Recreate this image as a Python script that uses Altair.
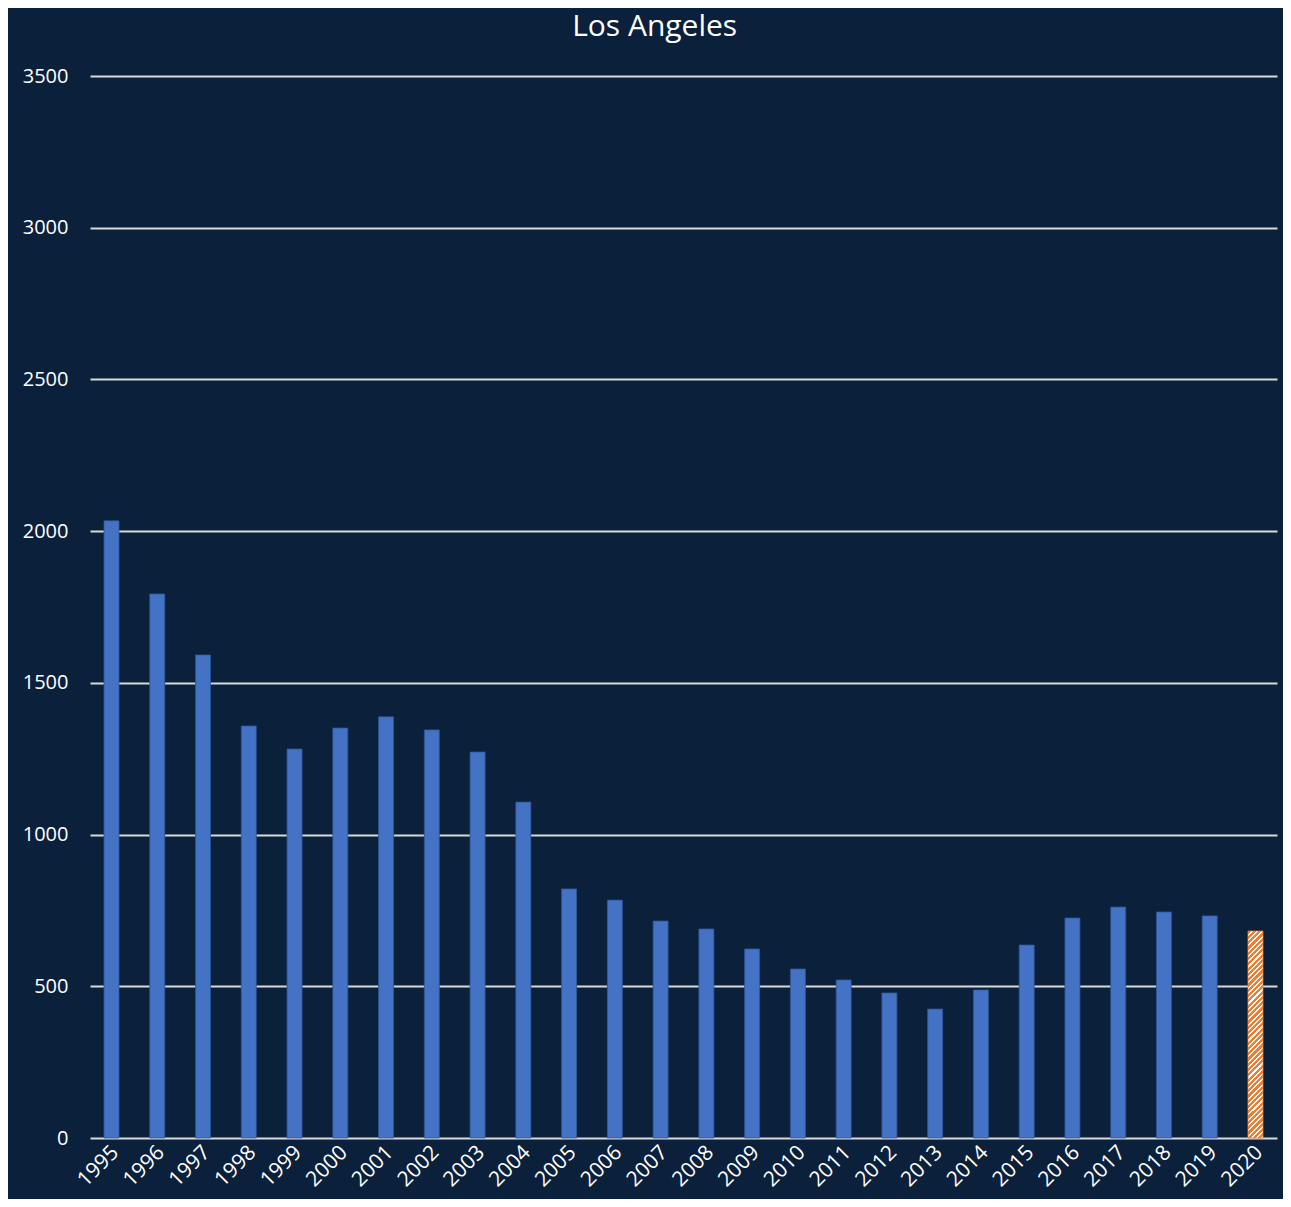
import altair as alt
import pandas as pd

years = [str(y) for y in range(1995, 2021)]
values = [2034, 1793, 1592, 1358, 1282, 1351, 1388, 1345, 1272, 1107,
          821, 784, 715, 689, 623, 557, 521, 478, 425, 488,
          636, 725, 761, 745, 732, 682]
partial_year = "2020"

df = pd.DataFrame({"year": years, "value": values})
df["partial"] = df["year"] == partial_year

BG = "#0b203b"
BLUE = "#4472C4"
ORANGE = "#ED7D31"

# diagonal hatch approximated by a striped linear gradient
n = 42
stops = []
for i in range(n):
    a = i / n
    b = (i + 0.6) / n
    c = (i + 1) / n
    stops += [
        {"offset": a, "color": ORANGE},
        {"offset": b, "color": ORANGE},
        {"offset": b, "color": "#ffffff"},
        {"offset": c, "color": "#ffffff"},
    ]
r = 15 / 207
cc = (1 + r) / (1 + r * r)
hatch = {"gradient": "linear", "x1": 0, "y1": 0, "x2": r * cc, "y2": cc, "stops": stops}

x_enc = alt.X("year:N", sort=years, title=None,
              scale=alt.Scale(paddingInner=0.672, paddingOuter=0.306),
              axis=alt.Axis(labelAngle=-45, labelColor="white", labelFontSize=21,
                            labelFont="Open Sans", ticks=False, domain=False,
                            labelPadding=11, labelOffset=4,
                            labelAlign="right", labelBaseline="middle"))
y_enc = alt.Y("value:Q", title=None,
              scale=alt.Scale(domain=[0, 3500], nice=False),
              axis=alt.Axis(values=list(range(0, 3501, 500)), format="d",
                            labelColor="white",
                            labelFontSize=20, labelFont="Open Sans", ticks=False,
                            domain=False, labelPadding=22, grid=True,
                            gridColor="#d9d9d9", gridWidth=2, gridOpacity=1))

base = alt.Chart(df)
blue = base.transform_filter("!datum.partial").mark_bar(
    color=BLUE, stroke="#2f5597", strokeWidth=0.8).encode(x=x_enc, y=y_enc)
orange = base.transform_filter("datum.partial").mark_bar(
    color=hatch, stroke=ORANGE, strokeWidth=0.8).encode(x=x_enc, y=y_enc)

chart = alt.layer(blue, orange).properties(
    width=1187, height=1062,
    background=BG,
    padding={"left": 82, "top": 68, "right": 6, "bottom": 61},
    autosize=alt.AutoSizeParams(type="none"),
    title=alt.TitleParams("Los Angeles", color="white", fontSize=30,
                          font="Open Sans", fontWeight="normal",
                          anchor="middle", frame="bounds", offset=24, dx=5),
).configure_view(stroke=None)

chart.save("out.html", embed_options={"renderer": "svg", "actions": False})
